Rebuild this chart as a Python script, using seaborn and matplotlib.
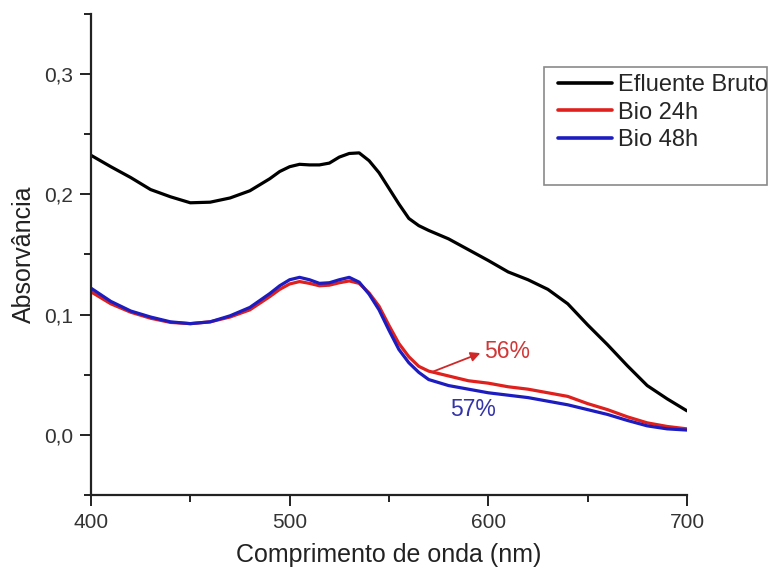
import matplotlib
matplotlib.use("Agg")
import matplotlib.pyplot as plt
from matplotlib.patches import Rectangle
from matplotlib.ticker import FixedLocator
import pandas as pd
import seaborn as sns

# Wavelengths (nm) and absorbance spectra
wavelength = [400, 410, 420, 430, 440, 450, 460, 470, 480, 490, 495, 500, 505,
              510, 515, 520, 525, 530, 535, 540, 545, 550, 555, 560, 565, 570,
              580, 590, 600, 610, 620, 630, 640, 650, 660, 670, 680, 690, 700]

efluente_bruto = [0.2325, 0.223, 0.214, 0.204, 0.198, 0.193, 0.1935, 0.197, 0.203,
                  0.213, 0.219, 0.223, 0.225, 0.2245, 0.2245, 0.226, 0.231, 0.234,
                  0.2345, 0.228, 0.218, 0.205, 0.192, 0.180, 0.174, 0.170, 0.163,
                  0.154, 0.145, 0.1355, 0.129, 0.121, 0.109, 0.0915, 0.075, 0.0575,
                  0.041, 0.030, 0.020]

bio_24h = [0.119, 0.109, 0.102, 0.097, 0.0935, 0.0925, 0.094, 0.098, 0.104, 0.115,
           0.121, 0.1255, 0.1275, 0.126, 0.124, 0.1245, 0.1265, 0.128, 0.126, 0.118,
           0.107, 0.091, 0.076, 0.065, 0.057, 0.053, 0.049, 0.045, 0.043, 0.040,
           0.038, 0.035, 0.032, 0.026, 0.021, 0.015, 0.010, 0.007, 0.005]

bio_48h = [0.122, 0.111, 0.103, 0.098, 0.094, 0.0925, 0.094, 0.099, 0.106, 0.1175,
           0.124, 0.129, 0.131, 0.129, 0.126, 0.1265, 0.129, 0.131, 0.127, 0.117,
           0.104, 0.087, 0.071, 0.060, 0.052, 0.046, 0.041, 0.038, 0.035, 0.033,
           0.031, 0.028, 0.025, 0.021, 0.017, 0.012, 0.0075, 0.005, 0.004]

series_names = ["Efluente Bruto", "Bio 24h", "Bio 48h"]
series_colors = ["#000000", "#e0201c", "#1c1cc0"]

x_ticks = [400, 500, 600, 700]
y_ticks = [0.0, 0.1, 0.2, 0.3]
y_tick_labels = ["0,0", "0,1", "0,2", "0,3"]

removal_24h = "56%"
removal_48h = "57%"

df = pd.concat([
    pd.DataFrame({"Comprimento": wavelength, "Absorbancia": vals, "Amostra": name})
    for name, vals in zip(series_names, [efluente_bruto, bio_24h, bio_48h])
], ignore_index=True)

sns.set_style("ticks")
plt.rcParams["font.family"] = ["Liberation Sans", "DejaVu Sans"]

fig = plt.figure(figsize=(7.69, 5.71), dpi=100)
ax = fig.add_axes([0.1183, 0.1331, 0.775, 0.8424])

sns.lineplot(data=df, x="Comprimento", y="Absorbancia", hue="Amostra",
             hue_order=series_names, palette=series_colors, linewidth=2.3,
             ax=ax, legend=False, sort=True, estimator=None)

ax.set_xlim(400, 700)
ax.set_ylim(-0.05, 0.35)
ax.xaxis.set_major_locator(FixedLocator(x_ticks))
ax.xaxis.set_minor_locator(FixedLocator([450, 550, 650]))
ax.yaxis.set_major_locator(FixedLocator(y_ticks))
ax.set_yticklabels(y_tick_labels)
ax.yaxis.set_minor_locator(FixedLocator([-0.05, 0.05, 0.15, 0.25, 0.35]))
ax.tick_params(axis="both", which="major", direction="out", length=8, width=1.4,
               labelsize=15, colors="#222222", labelcolor="#333333", pad=5)
ax.tick_params(axis="both", which="minor", direction="out", length=5, width=1.4,
               colors="#222222")
for side in ["top", "right"]:
    ax.spines[side].set_visible(False)
for side in ["left", "bottom"]:
    ax.spines[side].set_linewidth(1.6)
    ax.spines[side].set_color("#222222")

ax.set_xlabel("Comprimento de onda (nm)", fontsize=18, color="#222222", labelpad=8)
ax.set_ylabel("Absorvância", fontsize=18, color="#222222", labelpad=6)

# Removal annotations
ax.annotate("", xy=(596, 0.068), xytext=(572, 0.0525),
            arrowprops=dict(arrowstyle="-|>", color="#d02828", lw=1.3,
                            mutation_scale=14, shrinkA=0, shrinkB=0))
ax.text(598, 0.069, removal_24h, color="#d03838", fontsize=16.5, ha="left", va="center")
ax.text(581, 0.0215, removal_48h, color="#3434a8", fontsize=16.5, ha="left", va="center")

# Legend with an outer frame reaching the right edge
W, H = 769, 571
fig.patches.append(Rectangle((544 / W, 1 - 185 / H), (767 - 544) / W, (185 - 67) / H,
                             transform=fig.transFigure, fill=False,
                             edgecolor="#8a8a8a", linewidth=1.2))
handles = [plt.Line2D([], [], color=c, linewidth=2.6) for c in series_colors]
fig.legend(handles, series_names, loc="upper left",
           bbox_to_anchor=(558 / W, 1 - 74 / H), frameon=False, fontsize=17,
           handlelength=2.29, handletextpad=0.25, labelspacing=0.24,
           borderpad=0.0, borderaxespad=0.0)

fig.savefig("out.png", dpi=100)
